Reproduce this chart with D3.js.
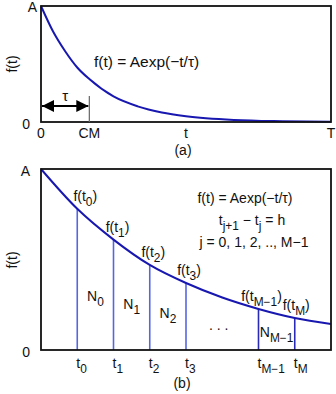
<!DOCTYPE html>
<html>
<head>
<meta charset="utf-8">
<script src="https://cdn.jsdelivr.net/npm/d3@7"></script>
<style>
  body { margin: 0; background: #fff; }
  text { font-family: "Liberation Sans", Arial, sans-serif; fill: #111; }
</style>
</head>
<body>
<svg width="336" height="394"></svg>
<script>
const svg = d3.select('svg');

// panel (a): decay curve, values as fraction of A
const timesA = [0, 0.25, 0.5, 0.75, 1, 1.5, 2, 2.5, 3, 4, 5, 6];
const valuesA = [1, 0.78, 0.61, 0.47, 0.37, 0.22, 0.135, 0.082, 0.05, 0.018, 0.007, 0.0025];
const tickValuesA = [0, 1, 3, 6];
const tickLabelsA = ['0', 'CM', 't', 'T'];
const tauA = 1;

// panel (b): same decay with sample points t_j
const timesB = [0, 1, 2, 3, 4, 5, 6, 7, 8];
const valuesB = [1, 0.78, 0.61, 0.47, 0.37, 0.29, 0.227, 0.177, 0.144];
const sampleIdx = [1, 2, 3, 4, 6, 7];
const sampleSubs = ['0', '1', '2', '3', 'M\u22121', 'M'];
const binAt = [1.5, 2.5, 3.5, 6.5];
const binSubs = ['0', '1', '2', 'M\u22121'];
const binLevel = [0.27, 0.225, 0.175, 0.07];

const curveColor = '#1818b0';
const fontSize = 14;

// text with subscript parts
function richText(g, x, y, parts, opts = {}) {
  const t = g.append('text')
    .attr('x', x).attr('y', y)
    .attr('font-size', opts.size || fontSize)
    .attr('text-anchor', opts.anchor || 'start');
  let shift = 0;
  parts.forEach(p => {
    const dy = p.sub ? 5 : 0;
    t.append('tspan')
      .attr('dy', dy - shift)
      .attr('font-size', p.sub ? (opts.size || fontSize) * 0.85 : null)
      .text(p.t);
    shift = dy;
  });
  return t;
}

// ---------- panel (a) ----------
const xA = d3.scaleLinear().domain([0, 6]).range([41, 331]);
const yA = d3.scaleLinear().domain([0, 1]).range([122, 6]);
const gA = svg.append('g');

const defs = svg.append('defs');
defs.append('marker')
  .attr('id', 'head')
  .attr('viewBox', '0 0 10 10')
  .attr('refX', 10).attr('refY', 5)
  .attr('markerWidth', 6).attr('markerHeight', 6)
  .attr('orient', 'auto-start-reverse')
  .append('path').attr('d', 'M0,0L10,5L0,10z').attr('fill', '#000');

gA.append('path')
  .datum(timesA.map((t, i) => [t, valuesA[i]]))
  .attr('d', d3.line().x(d => xA(d[0])).y(d => yA(d[1])).curve(d3.curveMonotoneX))
  .attr('fill', 'none').attr('stroke', curveColor).attr('stroke-width', 2);

gA.append('rect')
  .attr('x', xA(0)).attr('y', yA(1))
  .attr('width', xA(6) - xA(0)).attr('height', yA(0) - yA(1))
  .attr('fill', 'none').attr('stroke', '#111').attr('stroke-width', 1.8);

// CM marker line and tau arrow
gA.append('line')
  .attr('x1', xA(tauA)).attr('x2', xA(tauA))
  .attr('y1', 96).attr('y2', yA(0))
  .attr('stroke', '#666').attr('stroke-width', 1.2);
gA.append('line')
  .attr('x1', xA(0) + 1).attr('x2', xA(tauA) - 1)
  .attr('y1', 106).attr('y2', 106)
  .attr('stroke', '#000').attr('stroke-width', 2)
  .attr('marker-start', 'url(#head)').attr('marker-end', 'url(#head)');
gA.append('text').attr('x', (xA(0) + xA(tauA)) / 2).attr('y', 101)
  .attr('text-anchor', 'middle').attr('font-size', 15).text('\u03c4');

tickValuesA.forEach((v, i) => {
  gA.append('text').attr('x', xA(v)).attr('y', 138)
    .attr('text-anchor', 'middle').attr('font-size', fontSize)
    .text(tickLabelsA[i]);
});
gA.append('text').attr('x', 37).attr('y', 12).attr('text-anchor', 'end')
  .attr('font-size', fontSize).text('A');
gA.append('text').attr('x', 30).attr('y', 129).attr('text-anchor', 'end')
  .attr('font-size', fontSize).text('0');
gA.append('text').attr('transform', 'translate(17,64) rotate(-90)')
  .attr('text-anchor', 'middle').attr('font-size', fontSize).text('f(t)');
gA.append('text').attr('x', 94).attr('y', 67).attr('font-size', 15.5)
  .text('f(t) = Aexp(\u2212t/\u03c4)');
gA.append('text').attr('x', 183).attr('y', 155).attr('text-anchor', 'middle')
  .attr('font-size', fontSize).text('(a)');

// ---------- panel (b) ----------
const xB = d3.scaleLinear().domain([0, 8]).range([41, 331]);
const yB = d3.scaleLinear().domain([0, 1]).range([350, 169]);
const gB = svg.append('g');

gB.selectAll('line.sample')
  .data(sampleIdx)
  .enter().append('line')
    .attr('class', 'sample')
    .attr('x1', d => xB(timesB[d])).attr('x2', d => xB(timesB[d]))
    .attr('y1', yB(0)).attr('y2', d => yB(valuesB[d]))
    .attr('stroke', (d, i) => i < 4 ? '#5566e4' : '#2a2ab8')
    .attr('stroke-width', 1.6);

gB.append('path')
  .datum(timesB.map((t, i) => [t, valuesB[i]]))
  .attr('d', d3.line().x(d => xB(d[0])).y(d => yB(d[1])).curve(d3.curveMonotoneX))
  .attr('fill', 'none').attr('stroke', curveColor).attr('stroke-width', 2);

gB.append('rect')
  .attr('x', xB(0)).attr('y', yB(1))
  .attr('width', xB(8) - xB(0)).attr('height', yB(0) - yB(1))
  .attr('fill', 'none').attr('stroke', '#111').attr('stroke-width', 1.8);

// f(t_j) labels above each sample line, t_j below the axis
const labelDx = [8, 4, 3.5, 3, 3, 1.5];
sampleIdx.forEach((d, i) => {
  richText(gB, xB(timesB[d]) + labelDx[i], yB(valuesB[d]) - 8,
    [{t: 'f(t'}, {t: sampleSubs[i], sub: true}, {t: ')'}], {anchor: 'middle'});
  richText(gB, xB(timesB[d]) - 1, 368,
    [{t: 't'}, {t: sampleSubs[i], sub: true}]);
});

binAt.forEach((a, i) => {
  richText(gB, xB(a), yB(binLevel[i]),
    [{t: 'N'}, {t: binSubs[i], sub: true}], {anchor: 'middle'});
});
gB.append('text').attr('x', xB(4.9)).attr('y', 330).attr('text-anchor', 'middle')
  .attr('font-size', fontSize).text('.     .     .');

gB.append('text').attr('x', 30).attr('y', 176).attr('text-anchor', 'end')
  .attr('font-size', fontSize).text('A');
gB.append('text').attr('x', 30).attr('y', 357).attr('text-anchor', 'end')
  .attr('font-size', fontSize).text('0');
gB.append('text').attr('transform', 'translate(17,260) rotate(-90)')
  .attr('text-anchor', 'middle').attr('font-size', fontSize).text('f(t)');

gB.append('text').attr('x', 245).attr('y', 203).attr('text-anchor', 'middle')
  .attr('font-size', fontSize).text('f(t) = Aexp(\u2212t/\u03c4)');
richText(gB, 252, 225, [{t: 't'}, {t: 'j+1', sub: true}, {t: ' \u2212 t'}, {t: 'j', sub: true}, {t: ' = h'}],
  {anchor: 'middle'});
gB.append('text').attr('x', 254).attr('y', 247).attr('text-anchor', 'middle')
  .attr('font-size', fontSize).text('j = 0, 1, 2, .., M\u22121');
gB.append('text').attr('x', 182).attr('y', 388).attr('text-anchor', 'middle')
  .attr('font-size', fontSize).text('(b)');
</script>
</body>
</html>
